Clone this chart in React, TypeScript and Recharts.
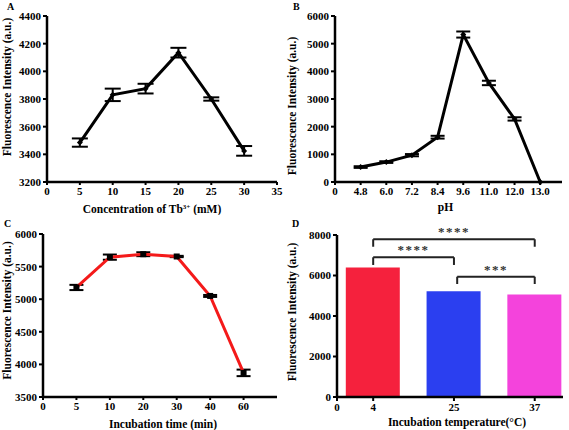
import React from "react";
import {
  Bar,
  BarChart,
  Cell,
  ErrorBar,
  Line,
  LineChart,
  ReferenceLine,
  XAxis,
  YAxis,
} from "recharts";

// A: Tb3+ concentration
const concX = [5, 10, 15, 20, 25, 30];
const concY = [3485, 3830, 3875, 4135, 3800, 3425];
const concErr = [30, 45, 35, 35, 12, 35];
const concTicksX = [0, 5, 10, 15, 20, 25, 30, 35];
const concTicksY = [3200, 3400, 3600, 3800, 4000, 4200, 4400];

// B: pH
const phLabels = ["4.8", "6.0", "7.2", "8.4", "9.6", "11.0", "12.0", "13.0"];
const phY = [540, 720, 970, 1620, 5330, 3580, 2280, 0];
const phErr = [30, 30, 40, 50, 110, 80, 60, 0];
const phTicksY = [0, 1000, 2000, 3000, 4000, 5000, 6000];

// C: incubation time
const timeLabels = ["5", "10", "20", "30", "40", "60"];
const timeY = [5180, 5645, 5690, 5655, 5050, 3870];
const timeErr = [40, 40, 30, 10, 15, 50];
const timeTicksY = [3500, 4000, 4500, 5000, 5500, 6000];

// D: incubation temperature
const tempLabels = ["4", "25", "37"];
const tempY = [6400, 5220, 5060];
const tempColors = ["#f5213d", "#2b3ff0", "#f443dc"];
const tempTicksY = [0, 2000, 4000, 6000, 8000];
const brackets = [
  { from: 1, to: 3, y: 7790, foot: 7420, stars: "****" },
  { from: 1, to: 2, y: 6900, foot: 6520, stars: "****" },
  { from: 2.04, to: 3, y: 5940, foot: 5580, stars: "***" },
];

const FONT = "'Liberation Serif', 'Times New Roman', serif";
const tickStyle = { fontSize: 11, fontWeight: 700, fill: "#000", fontFamily: FONT };
const axisLine = { stroke: "#000", strokeWidth: 2 };
const frameLine = { stroke: "#000", strokeWidth: 2.5 };

const concData = concX.map((x, i) => ({ x, y: concY[i], err: concErr[i] }));
const phData = phY.map((y, i) => ({ x: i + 1, y, err: phErr[i] }));
const timeData = timeY.map((y, i) => ({ x: i + 1, y, err: timeErr[i] }));
const tempData = tempY.map((y, i) => ({ x: i + 1, y }));

function yTitle(dy: number) {
  return ({ viewBox }: any) => {
    const x = 7;
    const y = viewBox.y + viewBox.height / 2 + dy;
    return (
      <text
        x={x}
        y={y}
        transform={`rotate(-90 ${x} ${y})`}
        textAnchor="middle"
        dominantBaseline="central"
        style={{ fontSize: 11.5, fontWeight: 700, fontFamily: FONT }}
      >
        Fluorescence Intensity (a.u.)
      </text>
    );
  };
}

function xTitle(text: React.ReactNode, dx: number, dy: number) {
  return ({ viewBox }: any) => (
    <text
      x={viewBox.x + viewBox.width / 2 + dx}
      y={viewBox.y + dy}
      textAnchor="middle"
      style={{ fontSize: 11.5, fontWeight: 700, fontFamily: FONT }}
    >
      {text}
    </text>
  );
}

const diamond = (props: any) => {
  const { cx, cy } = props;
  if (cx == null || cy == null) return <g />;
  return <path d={`M${cx} ${cy - 3}L${cx + 3} ${cy}L${cx} ${cy + 3}L${cx - 3} ${cy}Z`} fill="#000" />;
};

const square = (props: any) => {
  const { cx, cy } = props;
  if (cx == null || cy == null) return <g />;
  return <rect x={cx - 3} y={cy - 3} width={6} height={6} fill="#000" />;
};

function Letter({ ch, left, top }: { ch: string; left: number; top: number }) {
  return (
    <div
      style={{
        position: "absolute",
        left,
        top,
        fontFamily: FONT,
        fontWeight: 700,
        fontSize: 10,
        lineHeight: "10px",
      }}
    >
      {ch}
    </div>
  );
}

export default function App() {
  return (
    <div style={{ position: "absolute", left: 0, top: 0, width: 569, height: 430, background: "#fff" }}>
      {/* A */}
      <div style={{ position: "absolute", left: 0, top: 0 }}>
        <LineChart width={285} height={215} data={concData} margin={{ top: 16, right: 8, left: 0, bottom: 0 }}>
          <XAxis
            dataKey="x"
            type="number"
            domain={[0, 35]}
            ticks={concTicksX}
            tick={tickStyle}
            axisLine={frameLine}
            tickLine={axisLine}
            tickSize={3}
            height={33}
            label={{ content: xTitle(<>Concentration of Tb<tspan dy={-4} fontSize={7}>3+</tspan><tspan dy={4}> (mM)</tspan></>, -10, 31) }}
          />
          <XAxis xAxisId="top" orientation="top" dataKey="x" type="number" domain={[0, 35]} tick={false} tickLine={false} axisLine={frameLine} height={0} />
          <YAxis
            type="number"
            domain={[3200, 4400]}
            ticks={concTicksY}
            tick={tickStyle}
            axisLine={frameLine}
            tickLine={axisLine}
            tickSize={4}
            width={47}
            label={{ content: yTitle(-12) }}
          />
          <YAxis yAxisId="right" orientation="right" domain={[3200, 4400]} tick={false} tickLine={false} axisLine={frameLine} width={0} />
          <Line dataKey="y" type="linear" stroke="#000" strokeWidth={3} dot={diamond} isAnimationActive={false}>
            <ErrorBar dataKey="err" width={8} stroke="#000" strokeWidth={2} />
          </Line>
        </LineChart>
      </div>

      {/* B */}
      <div style={{ position: "absolute", left: 285, top: 0 }}>
        <LineChart width={284} height={215} data={phData} margin={{ top: 16, right: 7, left: 0, bottom: 0 }}>
          <XAxis
            dataKey="x"
            type="number"
            domain={[0, 8.85]}
            ticks={[0, 1, 2, 3, 4, 5, 6, 7, 8]}
            tickFormatter={(v: number) => (v === 0 ? "0" : phLabels[v - 1])}
            tick={tickStyle}
            axisLine={frameLine}
            tickLine={axisLine}
            tickSize={3}
            height={33}
            label={{ content: xTitle("pH", -3, 29) }}
          />
          <XAxis xAxisId="top" orientation="top" dataKey="x" type="number" domain={[0, 8.85]} tick={false} tickLine={false} axisLine={frameLine} height={0} />
          <YAxis
            type="number"
            domain={[0, 6000]}
            ticks={phTicksY}
            tick={tickStyle}
            axisLine={frameLine}
            tickLine={axisLine}
            tickSize={4}
            width={50}
            label={{ content: yTitle(7) }}
          />
          <YAxis yAxisId="right" orientation="right" domain={[0, 6000]} tick={false} tickLine={false} axisLine={frameLine} width={0} />
          <Line dataKey="y" type="linear" stroke="#000" strokeWidth={3} dot={diamond} isAnimationActive={false}>
            <ErrorBar dataKey="err" width={7} stroke="#000" strokeWidth={2} />
          </Line>
        </LineChart>
      </div>

      {/* C */}
      <div style={{ position: "absolute", left: 0, top: 215 }}>
        <LineChart width={285} height={215} data={timeData} margin={{ top: 19, right: 8, left: 0, bottom: 0 }}>
          <XAxis
            dataKey="x"
            type="number"
            domain={[0, 7]}
            ticks={[0, 1, 2, 3, 4, 5, 6]}
            tickFormatter={(v: number) => (v === 0 ? "0" : timeLabels[v - 1])}
            tick={tickStyle}
            axisLine={frameLine}
            tickLine={axisLine}
            tickSize={3}
            height={33}
            label={{ content: xTitle("Incubation time (min)", 3, 31) }}
          />
          <XAxis xAxisId="top" orientation="top" dataKey="x" type="number" domain={[0, 7]} tick={false} tickLine={false} axisLine={frameLine} height={0} />
          <YAxis
            type="number"
            domain={[3500, 6000]}
            ticks={timeTicksY}
            tick={tickStyle}
            axisLine={frameLine}
            tickLine={axisLine}
            tickSize={4}
            width={43}
            label={{ content: yTitle(-5) }}
          />
          <YAxis yAxisId="right" orientation="right" domain={[3500, 6000]} tick={false} tickLine={false} axisLine={frameLine} width={0} />
          <Line dataKey="y" type="linear" stroke="#f41a1a" strokeWidth={3} dot={square} isAnimationActive={false}>
            <ErrorBar dataKey="err" width={7} stroke="#000" strokeWidth={2} />
          </Line>
        </LineChart>
      </div>

      {/* D */}
      <div style={{ position: "absolute", left: 285, top: 215 }}>
        <BarChart width={284} height={215} data={tempData} margin={{ top: 20, right: 6, left: 0, bottom: 0 }}>
          <XAxis
            dataKey="x"
            type="number"
            domain={[0.552, 3.35]}
            ticks={[0.552, 1, 2, 3]}
            tickFormatter={(v: number) => (v < 1 ? "0" : tempLabels[v - 1])}
            tick={tickStyle}
            axisLine={frameLine}
            tickLine={axisLine}
            tickSize={4}
            height={33}
            label={{ content: xTitle("Incubation temperature(\u00b0C)", 7, 29) }}
          />
          <YAxis
            type="number"
            domain={[0, 8000]}
            ticks={tempTicksY}
            tick={tickStyle}
            axisLine={frameLine}
            tickLine={axisLine}
            tickSize={4}
            width={52}
            label={{ content: yTitle(-4) }}
          />
          <Bar dataKey="y" barSize={54} isAnimationActive={false}>
            {tempData.map((d, i) => (
              <Cell key={d.x} fill={tempColors[i]} />
            ))}
          </Bar>
          {brackets.map((b, i) => (
            <ReferenceLine
              key={`h${i}`}
              segment={[{ x: b.from, y: b.y }, { x: b.to, y: b.y }]}
              stroke="#222"
              strokeWidth={2}
              ifOverflow="visible"
              label={{
                value: b.stars,
                position: "top",
                offset: 3,
                fill: "#333",
                fontSize: 13,
                fontWeight: 700,
                fontFamily: FONT,
                letterSpacing: 1.5,
              }}
            />
          ))}
          {brackets.map((b, i) => (
            <ReferenceLine key={`l${i}`} segment={[{ x: b.from, y: b.y }, { x: b.from, y: b.foot }]} stroke="#222" strokeWidth={2} ifOverflow="visible" />
          ))}
          {brackets.map((b, i) => (
            <ReferenceLine key={`r${i}`} segment={[{ x: b.to, y: b.y }, { x: b.to, y: b.foot }]} stroke="#222" strokeWidth={2} ifOverflow="visible" />
          ))}
        </BarChart>
      </div>

      <Letter ch="A" left={7} top={2} />
      <Letter ch="B" left={293} top={2} />
      <Letter ch="C" left={4} top={219} />
      <Letter ch="D" left={292} top={219} />
    </div>
  );
}
